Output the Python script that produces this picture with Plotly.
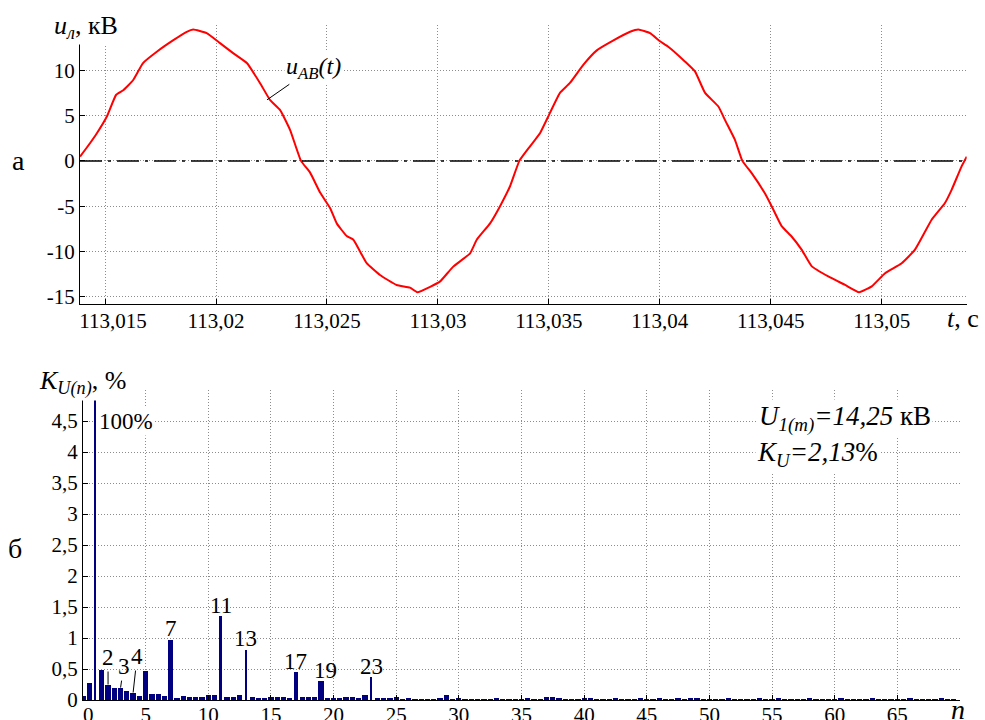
import plotly.graph_objects as go

# ---------------- data: top chart (line voltage waveform) ----------------
t_s = [113.01387, 113.01432, 113.01463, 113.01508, 113.01550, 113.01582, 113.01626, 113.01671,
       113.01733, 113.01806, 113.01868, 113.01897, 113.01958, 113.02018, 113.02077, 113.02139,
       113.02198, 113.02244, 113.02289, 113.02334, 113.02383, 113.02424, 113.02469, 113.02514,
       113.02544, 113.02589, 113.02619, 113.02679, 113.02739, 113.02814, 113.02874, 113.02907,
       113.02965, 113.03010, 113.03068, 113.03145, 113.03175, 113.03235, 113.03280, 113.03325,
       113.03367, 113.03415, 113.03460, 113.03505, 113.03550, 113.03595, 113.03655, 113.03716,
       113.03791, 113.03866, 113.03903, 113.03956, 113.04001, 113.04038, 113.04114, 113.04159,
       113.04204, 113.04264, 113.04294, 113.04339, 113.04372, 113.04414, 113.04474, 113.04504,
       113.04549, 113.04594, 113.04639, 113.04685, 113.04759, 113.04835, 113.04898, 113.04955,
       113.05015, 113.05090, 113.05150, 113.05225, 113.05285, 113.05315, 113.05360, 113.05383]
u_kv = [0.47, 1.95, 3.05, 4.9, 7.3, 7.8, 8.9, 10.8,
        12.05, 13.3, 14.25, 14.5, 14.1, 13.0, 11.9, 10.8,
        8.6, 6.7, 5.6, 3.4, 0.0, -1.3, -3.5, -5.2,
        -6.9, -8.3, -8.7, -11.3, -12.6, -13.7, -14.0, -14.5,
        -13.9, -13.3, -11.7, -10.2, -8.7, -6.9, -5.0, -2.8,
        0.0, 1.6, 3.05, 5.3, 7.5, 8.6, 10.6, 12.2,
        13.3, 14.25, 14.5, 14.1, 13.2, 12.6, 10.95, 9.85,
        7.5, 6.0, 4.5, 2.3, 0.0, -1.35, -3.6, -5.0,
        -7.2, -8.35, -9.8, -11.65, -12.75, -13.7, -14.5, -13.85,
        -12.4, -11.3, -9.8, -6.5, -4.65, -3.2, -0.6, 0.47]
t_ticks = [113.015, 113.02, 113.025, 113.03, 113.035, 113.04, 113.045, 113.05]
t_ticktext = ["113,015", "113,02", "113,025", "113,03", "113,035", "113,04", "113,045", "113,05"]
u_ticks = [-15, -10, -5, 0, 5, 10, 15]
u_ticktext = ["-15", "-10", "-5", "0", "5", "10", ""]

# ---------------- data: bottom chart (harmonic spectrum) ----------------
harmonic_n = [k / 2 for k in range(140)]
k_u_percent = [
    0.07, 0.27, 4.85, 0.48, 0.25, 0.20, 0.20, 0.15, 0.12, 0.06,
    0.46, 0.10, 0.10, 0.07, 0.97, 0.03, 0.07, 0.055, 0.055, 0.045,
    0.08, 0.08, 1.35, 0.055, 0.055, 0.075, 0.81, 0.055, 0.03, 0.02,
    0.055, 0.055, 0.045, 0.02, 0.45, 0.055, 0.055, 0.055, 0.30, 0.02,
    0.02, 0.025, 0.05, 0.05, 0.03, 0.08, 0.37, 0.02, 0.02, 0.02,
    0.05, 0.015, 0.02, 0.015, 0.015, 0.01, 0.015, 0.02, 0.075, 0.015,
    0.02, 0.015, 0.015, 0.01, 0.015, 0.015, 0.02, 0.01, 0.015, 0.015,
    0.015, 0.02, 0.015, 0.015, 0.055, 0.05, 0.02, 0.015, 0.01, 0.015,
    0.02, 0.02, 0.015, 0.015, 0.015, 0.02, 0.015, 0.015, 0.015, 0.02,
    0.015, 0.015, 0.02, 0.015, 0.015, 0.02, 0.015, 0.02, 0.04, 0.015,
    0.015, 0.015, 0.015, 0.02, 0.015, 0.015, 0.015, 0.015, 0.02, 0.015,
    0.015, 0.02, 0.015, 0.015, 0.015, 0.015, 0.02, 0.015, 0.015, 0.015,
    0.015, 0.02, 0.015, 0.015, 0.015, 0.015, 0.02, 0.015, 0.015, 0.015,
    0.015, 0.015, 0.02, 0.015, 0.015, 0.015, 0.015, 0.02, 0.015, 0.015,
]
n_ticks = [0, 5, 10, 15, 20, 25, 30, 35, 40, 45, 50, 55, 60, 65, 70]
n_ticktext = ["0", "5", "10", "15", "20", "25", "30", "35", "40", "45", "50", "55", "60", "65", ""]
k_ticks = [0, 0.5, 1, 1.5, 2, 2.5, 3, 3.5, 4, 4.5, 5]
k_ticktext = ["0", "0,5", "1", "1,5", "2", "2,5", "3", "3,5", "4", "4,5", ""]
plain_labels = [7, 11, 13, 17, 19, 23]
leader_labels = [2, 3, 4]

# ---------------- styling ----------------
SERIF = "Liberation Serif, Times New Roman, Times, serif"
W, H = 985, 720
GRID = "#8c8c8c"
NBSP = "\u00a0"
thin_width = {1: 0.12, 11: 0.26, 13: 0.16, 17: 0.26, 23: 0.16}
bar_widths = [thin_width.get(n, 0.42) for n in harmonic_n]

# the first tick label of each x axis sits a little right of its tick in the original
t_ticktext_shown = [NBSP * 3 + t_ticktext[0]] + t_ticktext[1:]
n_ticktext_shown = [NBSP * 2 + n_ticktext[0]] + n_ticktext[1:]

fig = go.Figure()
fig.add_trace(go.Scatter(x=t_s, y=u_kv, mode="lines",
                         line=dict(color="#ff0000", width=2, shape="spline", smoothing=0.4),
                         xaxis="x", yaxis="y", showlegend=False, hoverinfo="skip"))
fig.add_trace(go.Bar(x=harmonic_n, y=k_u_percent, width=bar_widths,
                     marker=dict(color="#000080", line=dict(width=0)),
                     xaxis="x2", yaxis="y2", showlegend=False, hoverinfo="skip"))

axis_common = dict(showline=True, linecolor="black", linewidth=1, ticks="inside", ticklen=5,
                   tickcolor="black", tickwidth=1, showgrid=True, gridcolor=GRID, griddash="1px,2px",
                   gridwidth=1, zeroline=False, automargin=False,
                   tickfont=dict(family=SERIF, size=21, color="black"))

def px_x(p):
    return p / W

def px_y(p):
    return 1 - p / H

fig.update_layout(
    width=W, height=H, margin=dict(l=0, r=0, t=0, b=0, autoexpand=False),
    paper_bgcolor="white", plot_bgcolor="white", bargap=0,
    font=dict(family=SERIF, color="black"),
    xaxis=dict(domain=[px_x(80), px_x(966.7)], range=[113.01387, 113.05383], anchor="y",
               tickvals=t_ticks, ticktext=t_ticktext_shown, ticklabelstandoff=-2, **axis_common),
    yaxis=dict(domain=[px_y(304), px_y(25)], range=[-15.8, 15], anchor="x",
               tickvals=u_ticks, ticktext=u_ticktext, **axis_common),
    xaxis2=dict(domain=[px_x(83), px_x(960)], range=[0, 70], anchor="y2",
                tickvals=n_ticks, ticktext=n_ticktext_shown, ticklabelstandoff=-4, **axis_common),
    yaxis2=dict(domain=[px_y(700), px_y(390)], range=[0, 5], anchor="x2",
                tickvals=k_ticks, ticktext=k_ticktext, **axis_common),
)

# zero reference line (dash-dot)
fig.add_shape(type="line", xref="x domain", x0=0, x1=1, yref="y", y0=0, y1=0,
              line=dict(color="black", width=1.5, dash="22px,6px,3px,6px"))

ann = []
def text(x, y, s, size=22, xanchor="center", yanchor="middle", xref="paper", yref="paper", bg=None, **kw):
    d = dict(x=x, y=y, xref=xref, yref=yref, text=s, showarrow=False, xanchor=xanchor,
             yanchor=yanchor, font=dict(family=SERIF, size=size, color="black"))
    if bg:
        d["bgcolor"] = bg
    d.update(kw)
    ann.append(d)

# top chart labels
text(px_x(52), px_y(27), "<i>u</i><sub><i>л</i></sub>, кВ", size=26, xanchor="left", bg="white")
text(px_x(18), px_y(160), "а", size=28)
text(px_x(945), px_y(318), "<i>t</i>, с", size=26, xanchor="left")
ann.append(dict(x=113.0223, y=6.74, xref="x", yref="y", text="<i>u</i><sub><i>AB</i></sub><i>(t)</i>",
                showarrow=True, arrowhead=0, arrowwidth=1, arrowcolor="black", ax=46, ay=-32,
                font=dict(family=SERIF, size=24, color="black"), bgcolor="white"))

# bottom chart labels
text(px_x(37), px_y(382), "<i>K</i><sub><i>U(n)</i></sub>, %", size=26, xanchor="left", bg="white")
text(px_x(15), px_y(548), "б", size=28)
text(px_x(949), px_y(709), "<i>n</i>", size=28, xanchor="left")
text(1, 4.5, "100%", size=23, xanchor="left", xref="x2", yref="y2", xshift=1, bg="white")
text(px_x(757), px_y(418), "<i>U</i><sub><i>1(m)</i></sub><i>=14,25</i> кВ", size=27, xanchor="left", bg="white")
text(px_x(755), px_y(454), "<i>K</i><sub><i>U</i></sub><i>=2,13</i>%", size=27, xanchor="left", bg="white")

for h in plain_labels:
    v = k_u_percent[harmonic_n.index(h)]
    text(h, v, str(h), size=23, xref="x2", yref="y2", yanchor="middle",
         yshift=11, xshift=(4 if h == 19 else 0))

leader_offsets = {2: (0, -27), 3: (3, -21), 4: (4, -36)}
for h in leader_labels:
    v = k_u_percent[harmonic_n.index(h)]
    ax_, ay_ = leader_offsets[h]
    ann.append(dict(x=h, y=v, xref="x2", yref="y2", text=str(h), showarrow=True, arrowhead=0,
                    arrowwidth=1, arrowcolor="black", ax=ax_, ay=ay_,
                    font=dict(family=SERIF, size=23, color="black")))

fig.update_layout(annotations=ann)
fig.write_html("out.html")
